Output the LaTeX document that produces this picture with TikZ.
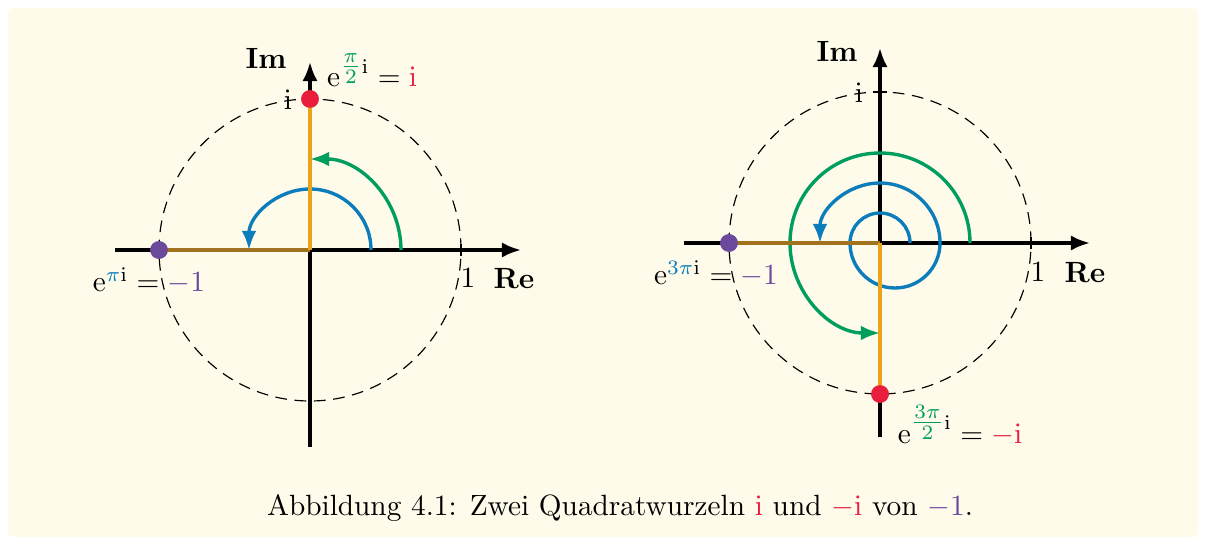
\documentclass[tikz,border=0pt]{standalone}
\usepackage{amsmath}
\usetikzlibrary{arrows.meta}
\definecolor{cream}{HTML}{FEFBEB}
\definecolor{cred}{HTML}{E81E3C}
\definecolor{cgreen}{HTML}{009E5E}
\definecolor{cblue}{HTML}{0A7DBA}
\definecolor{cpurple}{HTML}{6B4A9C}
\definecolor{corange}{HTML}{E9A41A}
\definecolor{cbrown}{HTML}{A2721E}
\newcommand{\eu}{\mathrm{e}}
\newcommand{\iu}{\mathrm{i}}
\tikzset{
  axis/.style={line width=1.2pt,-{Latex[length=6.5pt,width=5.2pt]}},
  unitcircle/.style={line width=0.4pt,dash pattern=on 4pt off 2.6pt},
  tickmark/.style={line width=0.5pt},
  turn/.style={line width=1.15pt,-{Latex[length=6.5pt,width=5pt]}},
  segm/.style={line width=1.4pt},
  dotmark/.style={circle,inner sep=0pt,minimum size=6pt},
  lbl/.style={inner sep=0pt}
}
\begin{document}
\begin{tikzpicture}[x=0.3413pt,y=0.3413pt]
\useasboundingbox (0,0) rectangle (1206,543);
\fill[cream,rounded corners=2] (8,6) rectangle (1198,535);

% ---------- left diagram ----------
\begin{scope}[shift={(310,293)}]
  \coordinate (O1) at (0,0);
  \draw[unitcircle] (O1) circle (151);
  \coordinate (xs1) at (-195,0);
  \coordinate (xe1) at (211,0);
  \coordinate (ys1) at (0,-197);
  \coordinate (ye1) at (0,188);
  \draw[axis] (xs1) -- (xe1);
  \draw[axis] (ys1) -- (ye1);
  \coordinate (t1a) at (151,-6); \coordinate (t1b) at (151,6);
  \coordinate (ti1a) at (-7,151); \coordinate (ti1b) at (7,151);
  \draw[tickmark] (t1a) -- (t1b);
  \draw[tickmark] (ti1a) -- (ti1b);
  \node[lbl] (one1) at (158,-28) {$1$};
  \node[lbl] (re1) at (204,-29) {\textbf{Re}};
  \node[lbl] (im1) at (-44,192) {\textbf{Im}};
  \node[lbl] (i1) at (-22,150) {$\iu$};
  \coordinate (ga) at (91,0);
  \draw[turn,cgreen] (ga) arc (0:90:91);
  \coordinate (ba) at (61,0);
  \draw[turn,cblue] (ba) arc (0:180:61);
  \node[dotmark,fill=cpurple] (m1) at (-151,0) {};
  \node[dotmark,fill=cred] (p1) at (0,151) {};
  \draw[segm,cbrown] (m1.center) -- (O1);
  \draw[segm,corange] (O1) -- (p1.center);
  \node[dotmark,fill=cpurple] at (m1) {};
  \node[dotmark,fill=cred] at (p1) {};
  \node[lbl,anchor=base] (lp1) at (62,163)
    {$\eu^{\textcolor{cgreen}{\tfrac{\pi}{2}}\iu}=\textcolor{cred}{\iu}$};
  \node[lbl,anchor=base] (lm1) at (-161,-42)
    {$\eu^{\textcolor{cblue}{\pi}\iu}=\textcolor{cpurple}{-1}$};
\end{scope}

% ---------- right diagram ----------
\begin{scope}[shift={(880,300)}]
  \coordinate (O2) at (0,0);
  \draw[unitcircle] (O2) circle (151);
  \coordinate (xs2) at (-196,0);
  \coordinate (xe2) at (210,0);
  \coordinate (ys2) at (0,-194);
  \coordinate (ye2) at (0,195);
  \draw[axis] (xs2) -- (xe2);
  \draw[axis] (ys2) -- (ye2);
  \coordinate (t2a) at (151,-6); \coordinate (t2b) at (151,6);
  \coordinate (ti2a) at (-7,151); \coordinate (ti2b) at (7,151);
  \draw[tickmark] (t2a) -- (t2b);
  \draw[tickmark] (ti2a) -- (ti2b);
  \node[lbl] (one2) at (158,-29) {$1$};
  \node[lbl] (re2) at (205,-30) {\textbf{Re}};
  \node[lbl] (im2) at (-43,192) {\textbf{Im}};
  \node[lbl] (i2) at (-21,150) {$\iu$};
  \coordinate (gs) at (90,0);
  \draw[turn,cgreen] (gs) arc (0:270:90);
  \coordinate (bs) at (30,0);
  \draw[turn,cblue] (bs) arc (0:180:30) arc (180:360:45) arc (0:180:60);
  \node[dotmark,fill=cpurple] (m2) at (-151,0) {};
  \node[dotmark,fill=cred] (p2) at (0,-151) {};
  \draw[segm,cbrown] (m2.center) -- (O2);
  \draw[segm,corange] (O2) -- (p2.center);
  \node[dotmark,fill=cpurple] at (m2) {};
  \node[dotmark,fill=cred] at (p2) {};
  \node[lbl,anchor=base] (lm2) at (-164,-42)
    {$\eu^{\textcolor{cblue}{3\pi}\iu}=\textcolor{cpurple}{-1}$};
  \node[lbl,anchor=base] (lp2) at (80,-200)
    {$\eu^{\textcolor{cgreen}{\tfrac{3\pi}{2}}\iu}=\textcolor{cred}{-\iu}$};
\end{scope}

\node[lbl,anchor=base] (cap) at (620,28)
  {Abbildung 4.1: Zwei Quadratwurzeln \textcolor{cred}{$\iu$} und \textcolor{cred}{$-\iu$} von \textcolor{cpurple}{$-1$}.};
\end{tikzpicture}
\end{document}
